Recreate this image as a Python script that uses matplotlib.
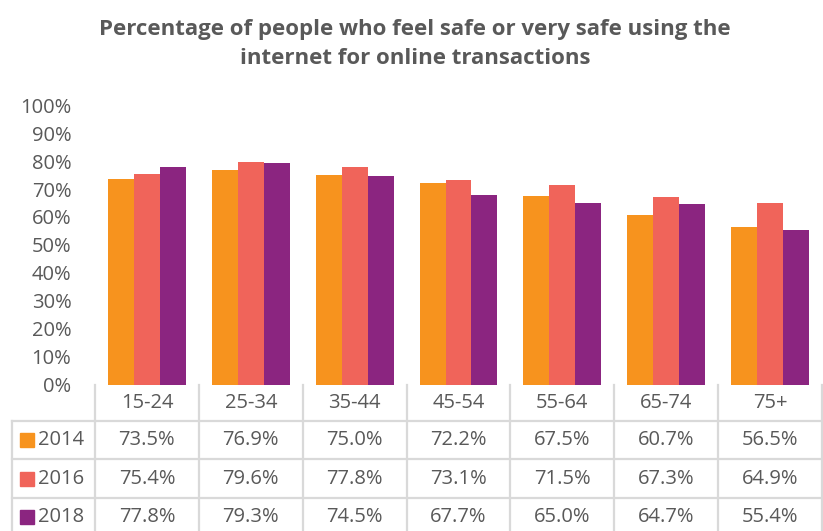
import numpy as np
import matplotlib.pyplot as plt
from matplotlib.patches import Rectangle
from matplotlib.transforms import blended_transform_factory

# DATA
ages = ['15-24', '25-34', '35-44', '45-54', '55-64', '65-74', '75+']
years = ['2014', '2016', '2018']
v2014 = [73.5, 76.9, 75.0, 72.2, 67.5, 60.7, 56.5]
v2016 = [75.4, 79.6, 77.8, 73.1, 71.5, 67.3, 64.9]
v2018 = [77.8, 79.3, 74.5, 67.7, 65.0, 64.7, 55.4]
colors = ['#F7931E', '#F0645A', '#8B2580']

W, H = 823, 531
fig = plt.figure(figsize=(W/100, H/100), dpi=100)
plt.rcParams['font.family'] = ['Open Sans', 'DejaVu Sans']
grey = '#595959'
lgrey = '#D9D9D9'
fs = 14.5

# plot area in pixels (top-left origin)
x0, x1 = 95, 822
ytop, ybot = 105, 385
ax = fig.add_axes([x0/W, 1-ybot/H, (x1-x0)/W, (ybot-ytop)/H])

x = np.arange(len(ages))
bw = 0.25
for i, vals in enumerate([v2014, v2016, v2018]):
    ax.bar(x + (i-1)*bw, vals, bw, color=colors[i], zorder=2)

ax.set_xlim(-0.5, len(ages)-0.5)
ax.set_ylim(0, 100)
ax.set_yticks(np.arange(0, 101, 10))
ax.set_yticklabels([f'{t}%' for t in range(0, 101, 10)], fontsize=fs, color=grey)
ax.tick_params(axis='y', length=0, pad=17)
ax.set_xticks([])
for s in ax.spines.values():
    s.set_visible(False)

# data table below the axis
ph = ybot - ytop
def ay(py):
    return (ybot - py) / ph
tr = blended_transform_factory(ax.transData, ax.transAxes)
row_lines = [421, 459, 498]
row_centers = [440, 479, 517]
col_edges = np.arange(len(ages)+1) - 0.5
lw = 1.6
for ce in col_edges:
    ax.plot([ce, ce], [ay(385), ay(531)], color=lgrey, lw=lw, transform=tr, clip_on=False)
for rl in row_lines:
    ax.plot([-0.5, len(ages)-0.5], [ay(rl), ay(rl)], color=lgrey, lw=lw, transform=tr, clip_on=False)
# label column
lx = (12 - x0) / ((x1 - x0) / len(ages)) - 0.5
for rl in row_lines:
    ax.plot([lx, -0.5], [ay(rl), ay(rl)], color=lgrey, lw=lw, transform=tr, clip_on=False)
ax.plot([lx, lx], [ay(421), ay(531)], color=lgrey, lw=lw, transform=tr, clip_on=False)

for j, a in enumerate(ages):
    ax.text(j, ay(403), a, ha='center', va='center', fontsize=fs, color=grey, transform=tr)
for i, vals in enumerate([v2014, v2016, v2018]):
    for j, v in enumerate(vals):
        ax.text(j, ay(row_centers[i]), f'{v:.1f}%', ha='center', va='center',
                fontsize=fs, color=grey, transform=tr)
    # legend key + year
    sq = 14
    fig.patches.append(Rectangle((20/W, 1-(row_centers[i]+sq/2)/H), sq/W, sq/H,
                                 color=colors[i], transform=fig.transFigure))
    fig.text(38/W, 1-row_centers[i]/H, years[i], ha='left', va='center',
             fontsize=fs, color=grey)

fig.text(415/W, 1-44/H, 'Percentage of people who feel safe or very safe using the\ninternet for online transactions',
         ha='center', va='center', fontsize=16, fontweight='bold', color=grey, linespacing=1.45)

fig.savefig('out.png', dpi=100)
